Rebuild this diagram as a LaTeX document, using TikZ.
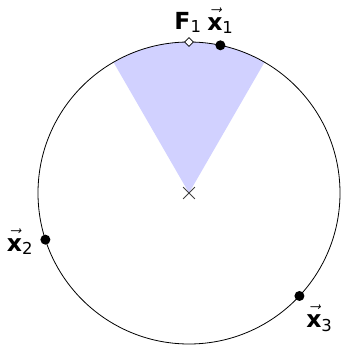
\documentclass[tikz,border=0pt]{standalone}
\usepackage{amsmath}
\usepackage{fontspec}
\setmainfont{DejaVu Sans}
\usetikzlibrary{shapes.geometric, shapes.misc, positioning}
\newcommand{\vx}[1]{\vec{\rule{0pt}{0.66em}\text{\textbf{x}}}_{\text{#1}}}

\begin{document}
\begin{tikzpicture}[
        x=1pt, y=1pt,
        pt/.style={circle, fill=black, inner sep=0pt, minimum size=10pt},
        fpt/.style={diamond, draw, fill=white, inner sep=0pt, minimum size=9pt, line width=0.6pt},
        ctr/.style={cross out, draw=black!75, inner sep=0pt, minimum size=11pt, line width=0.8pt},
        lbl/.style={inner sep=0pt, font=\fontsize{23.5}{27}\selectfont},
    ]
        \useasboundingbox (-189,-154) rectangle (151,193);
        \fill[blue!18] (0,0) -- (60:151) arc[start angle=60, end angle=120, radius=151] -- cycle;
        \draw[line width=0.8pt] (0,0) circle[radius=151];

        \node[ctr] (c) at (0,0) {};
        \node[fpt] (F1) at (90:151) {};
        \node[pt] (x1) at (78:151) {};
        \node[pt] (x2) at (198:151) {};
        \node[pt] (x3) at (-43:151) {};

        \node[lbl, above=4pt of F1, xshift=-1pt] (lF1) {$\text{\textbf{F}}_{\text{1}}$};
        \node[lbl, above=6pt of x1] (lx1) {$\vx{1}$};
        \node[lbl, left=7pt of x2, yshift=-2pt] (lx2) {$\vx{2}$};
        \node[lbl, below right=5pt and 3pt of x3] (lx3) {$\vx{3}$};
    \end{tikzpicture}
\end{document}
